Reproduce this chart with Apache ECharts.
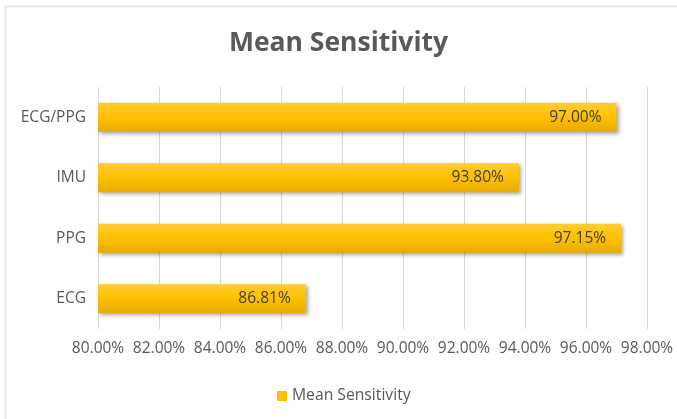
<!DOCTYPE html>
<html>
<head>
<meta charset="utf-8">
<script src="https://cdn.jsdelivr.net/npm/echarts@6/dist/echarts.min.js"></script>
<style>
html,body{margin:0;padding:0;background:#fff;}
#c{width:677px;height:419px;}
</style>
</head>
<body>
<div id="c"></div>
<script>
var categories = ['ECG', 'PPG', 'IMU', 'ECG/PPG'];
var sensitivity = [86.81, 97.15, 93.80, 97.00];
var seriesName = 'Mean Sensitivity';
var titleText = 'Mean Sensitivity';

var chart = echarts.init(document.getElementById('c'), null, {renderer: 'canvas'});
var font = '"Open Sans", sans-serif';
chart.setOption({
  animation: false,
  backgroundColor: '#ffffff',
  graphic: [{
    type: 'rect',
    shape: {x: 5.5, y: 6.5, width: 700, height: 450},
    style: {fill: 'none', stroke: '#e3e3e3', lineWidth: 1.5},
    silent: true
  }],
  title: {
    text: titleText,
    left: 'center',
    top: 25,
    textStyle: {fontFamily: font, fontSize: 26.5, fontWeight: 'bold', color: '#595959'}
  },
  legend: {
    data: [{name: seriesName, itemStyle: {color: '#FFC000'}}],
    left: 272,
    top: 383,
    icon: 'rect',
    itemWidth: 10,
    itemHeight: 10,
    itemGap: 6,
    textStyle: {fontFamily: font, fontSize: 15.7, color: '#595959'}
  },
  grid: {left: 98, right: 30, top: 87, bottom: 90, containLabel: false},
  xAxis: {
    type: 'value',
    min: 80,
    max: 98,
    interval: 2,
    axisLine: {show: false},
    axisTick: {show: false},
    splitLine: {show: true, lineStyle: {color: '#d9d9d9', width: 1}},
    axisLabel: {
      margin: 12,
      fontFamily: font, fontSize: 15.5, color: '#595959',
      formatter: function (v) { return v.toFixed(2) + '%'; }
    }
  },
  yAxis: {
    type: 'category',
    data: categories,
    axisLine: {show: false},
    axisTick: {show: false},
    axisLabel: {margin: 12, fontFamily: font, fontSize: 15.5, color: '#595959'}
  },
  series: [{
    name: seriesName,
    type: 'bar',
    data: sensitivity,
    barWidth: 29,
    itemStyle: {
      color: new echarts.graphic.LinearGradient(0, 0, 0, 1, [
        {offset: 0, color: '#FFCC33'},
        {offset: 0.5, color: '#FFC000'},
        {offset: 1, color: '#E6AC00'}
      ]),
      shadowColor: 'rgba(0,0,0,0.35)',
      shadowBlur: 4,
      shadowOffsetX: 2,
      shadowOffsetY: 2
    },
    label: {
      show: true,
      position: 'insideRight',
      distance: 15,
      fontFamily: font, fontSize: 15.5, color: '#404040',
      formatter: function (p) { return p.value.toFixed(2) + '%'; }
    }
  }]
});
</script>
</body>
</html>
